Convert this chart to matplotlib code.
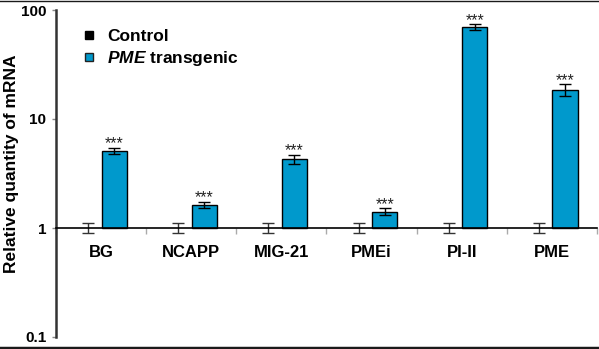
import matplotlib
matplotlib.use("Agg")
import matplotlib.pyplot as plt
from matplotlib.lines import Line2D
import numpy as np

plt.rcParams['font.family'] = ['Liberation Sans', 'DejaVu Sans']
plt.rcParams['mathtext.fontset'] = 'custom'
plt.rcParams['mathtext.it'] = 'Liberation Sans:italic:bold'
plt.rcParams['mathtext.rm'] = 'Liberation Sans:bold'

genes = ['BG', 'NCAPP', 'MIG-21', 'PMEi', 'PI-II', 'PME']
control = [1, 1, 1, 1, 1, 1]
control_err = [0.1, 0.1, 0.1, 0.1, 0.1, 0.1]
transgenic = [5.1, 1.63, 4.27, 1.41, 69.4, 18.5]
transgenic_err = [0.35, 0.1, 0.4, 0.1, 4.5, 2.3]
stars = ['***'] * 6

blue = '#0099cc'

fig = plt.figure(figsize=(5.99, 3.49), dpi=100)
ax = fig.add_axes([56/599, 1 - 337/349, 541/599, 327/349])

x = np.arange(len(genes))
w = 0.28
off = 0.145

ax.bar(x - off, np.array(control) - 1, w, bottom=1, color='black')
ax.errorbar(x - off, control, yerr=control_err, fmt='none', ecolor='#333333',
            elinewidth=1, capsize=4, capthick=1)
ax.bar(x + off, np.array(transgenic) - 1, w, bottom=1, color=blue,
       edgecolor='black', linewidth=1)
ax.errorbar(x + off, transgenic, yerr=transgenic_err, fmt='none', ecolor='black',
            elinewidth=1, capsize=4, capthick=1)

for xi, v, e, s in zip(x, transgenic, transgenic_err, stars):
    ax.annotate(s, (xi + off, v + e), xytext=(0, -2.5), textcoords='offset points',
                ha='center', va='bottom', fontsize=11.5, color='#222222')

ax.set_yscale('log')
ax.set_ylim(0.1, 100)
ax.set_xlim(-0.5, len(genes) - 0.5)
ax.set_yticks([0.1, 1, 10, 100])
ax.set_yticklabels(['0.1', '1', '10', '100'], fontsize=11, fontweight='bold')
ax.yaxis.set_minor_locator(matplotlib.ticker.NullLocator())
ax.tick_params(axis='y', length=3, width=1, color='#888888', pad=4)

# category axis sits on the line y = 1
ax.spines['bottom'].set_position(('data', 1))
ax.spines['bottom'].set_linewidth(1.2)
ax.spines['top'].set_visible(False)
ax.spines['right'].set_visible(False)
ax.spines['left'].set_color('#333333')
ax.spines['left'].set_linewidth(1.8)
ax.set_xticks(np.arange(len(genes) + 1) - 0.5)
ax.set_xticklabels([])
ax.tick_params(axis='x', which='major', length=4, width=1, color='#aaaaaa')
ax.set_xticks(x, minor=True)
ax.set_xticklabels(genes, minor=True, fontsize=12, fontweight='bold')
ax.tick_params(axis='x', which='minor', length=0, pad=12)

fig.text(12/599, 1 - 164/349, 'Relative quantity of mRNA', rotation=90,
         ha='center', va='center', fontsize=12.5, fontweight='bold')

handles = [
    Line2D([], [], marker='s', linestyle='none', markersize=6,
           markerfacecolor='black', markeredgecolor='black'),
    Line2D([], [], marker='s', linestyle='none', markersize=6,
           markerfacecolor=blue, markeredgecolor='#222222'),
]
leg = ax.legend(handles, ['Control', r'$\it{PME}$ transgenic'],
                loc='upper left', bbox_to_anchor=(0.02, 0.99), frameon=False,
                handlelength=0.8, handletextpad=0.6, labelspacing=0.3,
                prop={'size': 12.5, 'weight': 'bold'})

fig.add_artist(Line2D([0, 1], [1 - 0.5/349, 1 - 0.5/349], transform=fig.transFigure,
                      color='#1a1a1a', linewidth=1))
fig.add_artist(Line2D([0, 1], [1.5/349, 1.5/349], transform=fig.transFigure,
                      color='#1a1a1a', linewidth=2.5))

fig.savefig('out.png', dpi=100)
